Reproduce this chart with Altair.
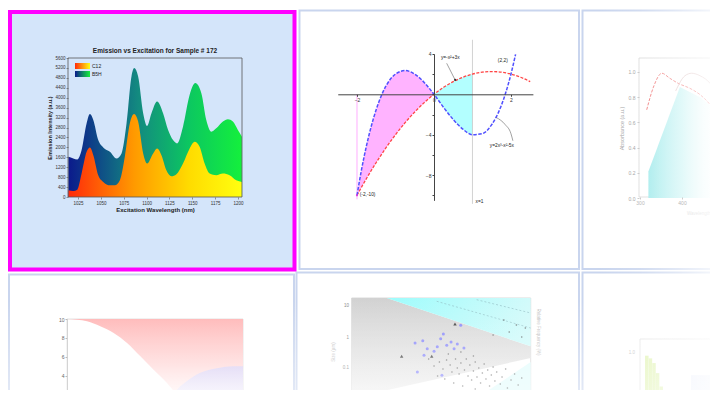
import altair as alt
import pandas as pd

F = "Liberation Sans"
W, H = 702, 382
OX, OY = 8, 8

# ---------------- data ----------------
# Panel 1: Emission vs Excitation for Sample # 172
wl_back = [1014.4, 1019.8, 1024.2, 1028.9, 1034.4, 1038.0, 1041.7, 1047.1, 1052.6, 1059.9,
           1067.1, 1072.6, 1078.1, 1083.5, 1086.4, 1090.8, 1096.3, 1100.6, 1105.4, 1111.5,
           1118.1, 1123.6, 1129.0, 1133.4, 1139.9, 1147.2, 1153.4, 1160.0, 1165.4, 1170.9,
           1176.3, 1183.6, 1189.1, 1194.5, 1200.0, 1204.4]
int_back = [1619, 1552, 1511, 1889, 2969, 3347, 3104, 2294, 1997, 1822,
            1552, 1754, 2969, 4858, 5196, 4858, 3374, 2861, 3374, 3846,
            3374, 2699, 2294, 2159, 2834, 4116, 4588, 4183, 3104, 2632,
            2766, 3037, 3131, 3037, 2699, 2429]
wl_front = [1014.4, 1019.8, 1024.2, 1028.9, 1034.4, 1038.0, 1041.7, 1047.1, 1052.6, 1059.9,
            1065.3, 1070.8, 1076.2, 1081.7, 1086.4, 1090.8, 1096.3, 1100.6, 1107.2, 1111.5,
            1116.3, 1121.7, 1127.2, 1132.7, 1139.9, 1147.2, 1152.7, 1158.1, 1163.6, 1169.1,
            1176.3, 1183.6, 1190.9, 1198.2, 1204.4]
int_front = [270, 243, 297, 945, 1822, 1997, 1687, 877, 607, 472,
             472, 675, 1619, 2969, 3347, 3037, 1754, 1349, 1754, 1956,
             1687, 1080, 837, 918, 1349, 1956, 2227, 2024, 1349, 945,
             877, 945, 877, 675, 607]
wl_ticks = [1025, 1050, 1075, 1100, 1125, 1150, 1175, 1200]
int_ticks = [0, 400, 800, 1200, 1600, 2000, 2400, 2800, 3200, 3600, 4000, 4400, 4800, 5200, 5600]
legend_names = ["C12", "B5H"]
title1 = "Emission vs Excitation for Sample # 172"

# Panel 2: area between two curves
p2_x = [-2.0, -1.875, -1.75, -1.5, -1.25, -1.0, -0.75, -0.5, -0.25, 0.0,
        0.25, 0.5, 0.75, 1.0, 1.25, 1.5, 1.75, 2.0]
p2_blue = [-10.0, -7.32, -5.03, -1.5, 0.8, 2.0, 2.35, 2.0, 1.15, 0.0,
           -1.3, -2.5, -3.45, -4.0, -3.9, -3.0, -1.1, 2.0]
p2_red = [-10.0, -9.14, -8.31, -6.75, -5.31, -4.0, -2.81, -1.75, -0.81, 0.0,
          0.69, 1.25, 1.69, 2.0, 2.19, 2.25, 2.19, 2.0]
p2_blue_x_tail = [2.12]
p2_blue_y_tail = [3.96]
p2_red_x_tail = [2.25, 2.5]
p2_red_y_tail = [1.69, 1.25]

# Panel 3: absorbance (faded)
p3_fill_x = [320, 395, 443, 480]
p3_fill_y = [0.21, 0.88, 0.80, 0.70]
p3_red_x = [316, 332, 352, 371, 391, 419, 443, 467, 490]
p3_red_y = [0.70, 0.88, 0.99, 0.95, 0.91, 0.87, 0.82, 0.74, 0.62]
p3_grey_x = [385, 407, 423, 443, 467, 483]
p3_grey_y = [0.85, 0.97, 0.99, 0.97, 0.91, 0.83]
p3_yticks = [0.0, 0.2, 0.4, 0.6, 0.8, 1.0]
p3_xticks = [300, 400]

# Panel 4: filled regions
p4_pink_x = [0, 0.114, 0.189, 0.265, 0.341, 0.417, 0.492, 0.568, 0.625, 0.68, 0.72, 1.0]
p4_pink_y = [10, 9.76, 9.23, 8.52, 7.46, 6.05, 4.63, 3.22, 1.98, 0.9, 0.0, 0.0]
p4_lav_x = [0.56, 0.587, 0.63, 0.68, 0.757, 0.852, 0.947, 1.0]
p4_lav_y = [0, 1.6, 2.6, 3.4, 4.3, 4.8, 5.0, 5.0]
p4_yticks = [4, 6, 8, 10]

# Panel 5: scatter on shaded regions
p5_blue_x = [3.54, 3.97, 4.22, 4.60, 4.97, 5.12, 5.31, 5.55, 5.72, 5.90, 6.27, 4.04, 3.67, 5.04, 6.09, 4.78]
p5_blue_y = [5.5, 5.73, 4.93, 4.67, 5.93, 6.4, 5.27, 5.6, 4.93, 5.4, 5.0, 4.27, 2.6, 2.27, 7.27, 5.13]
p5_tri_x = [5.77, 2.79, 4.47]
p5_tri_y = [7.4, 4.17, 4.17]
p5_dot_x = [4.3, 4.6, 4.9, 5.1, 5.3, 5.5, 5.6, 5.8, 5.9, 6.0, 6.1, 6.3, 6.4, 6.5, 6.6, 6.7, 6.8, 6.9,
            7.0, 7.1, 7.2, 7.3, 7.4, 7.5, 7.6, 7.7, 7.8, 7.9, 8.0, 8.1, 8.3, 8.4, 8.6, 8.7, 8.9, 9.1,
            9.3, 9.5, 5.2, 5.7, 6.2, 4.8, 6.9, 7.6, 8.2, 5.4, 6.1, 6.8, 8.8, 9.2, 9.5, 8.5, 9.7, 7.9]
p5_dot_y = [3.9, 3.2, 3.6, 2.9, 3.8, 3.3, 2.6, 3.9, 3.0, 2.4, 3.5, 2.8, 3.9, 2.2, 3.3, 1.8, 2.7, 3.6,
            2.1, 3.0, 1.5, 2.5, 3.4, 1.9, 2.8, 1.2, 2.3, 3.1, 1.7, 2.6, 1.4, 2.1, 2.9, 1.0, 1.8, 2.4,
            1.3, 2.0, 1.9, 1.5, 1.2, 2.2, 0.9, 0.7, 0.5, 4.4, 4.6, 4.2, 6.6, 7.3, 6.1, 7.8, 7.0, 6.3]

# Panel 6: faded histogram
p6_bar_x = [0.2, 0.6, 1.0, 1.4, 1.8]
p6_bar_h = [0.96, 0.92, 0.85, 0.70, 0.50]


# ---------------- helpers ----------------
def cx(p):
    return p - OX


def cy(p):
    return p - OY


def lin(domain, rng):
    return alt.Scale(domain=domain, range=rng, zero=False, nice=False)


PX = lin([OX, OX + W], [0, W])
PY = lin([OY, OY + H], [0, H])


def hgrad(stops):
    return alt.Gradient(gradient="linear", x1=0, x2=1, y1=0, y2=0,
                        stops=[alt.GradientStop(offset=o, color=c) for o, c in stops])


def vgrad(stops):
    return alt.Gradient(gradient="linear", x1=0, x2=0, y1=0, y2=1,
                        stops=[alt.GradientStop(offset=o, color=c) for o, c in stops])


def page_rects(rows, **mk):
    df = pd.DataFrame(rows, columns=["x0", "y0", "x1", "y1"])
    return alt.Chart(df).mark_rect(**mk).encode(
        x=alt.X("x0:Q", scale=PX, axis=None), x2="x1:Q",
        y=alt.Y("y0:Q", scale=PY, axis=None), y2="y1:Q")


def page_text(rows, **mk):
    df = pd.DataFrame(rows, columns=["x", "y", "t"])
    mk.setdefault("font", F)
    return alt.Chart(df).mark_text(**mk).encode(
        x=alt.X("x:Q", scale=PX, axis=None),
        y=alt.Y("y:Q", scale=PY, axis=None),
        text="t:N")


def axis(**kw):
    base = dict(labelFont=F, titleFont=F, grid=False, zindex=1, labelOverlap=False,
                labelFlush=False)
    base.update(kw)
    return alt.Axis(**base)


layers = []

# ---------------- gallery cells ----------------
cells = [(299.5, 10.5, 579, 269), (582.5, 10.5, 780, 269),
         (9, 274.5, 294, 460), (296.5, 272.5, 579, 460), (582.5, 272.5, 780, 460)]
layers.append(page_rects(cells, fillOpacity=0, stroke="#C9D5EE", strokeWidth=2))
layers.append(page_rects([(10, 12, 294.5, 269.5)], fill="#D4E5FA"))

# ---------------- panel 1 ----------------
sx1 = lin([1014, 1204.5], [cx(68), cx(242)])
sy1 = lin([0, 5600], [cy(197), cy(58)])
ax1x = axis(orient="bottom", offset=cy(197) - H, values=wl_ticks, format="d", labelFontSize=4.5,
            labelColor="#333", tickSize=2, tickColor="#555", tickWidth=0.6, domain=False,
            labelPadding=1, title="Excitation Wavelength (nm)", titleFontSize=6,
            titleFontWeight="bold", titleColor="#222", titlePadding=2)
ax1y = axis(orient="left", offset=-cx(68), values=int_ticks, format="d", labelFontSize=4.5,
            labelColor="#333", tickSize=2, tickColor="#555", tickWidth=0.6, domain=False,
            labelPadding=1, title="Emission Intensity (a.u.)", titleFontSize=5.5,
            titleFontWeight="bold", titleColor="#222", titlePadding=2)
df_back = pd.DataFrame({"w": wl_back, "v": int_back})
df_front = pd.DataFrame({"w": wl_front, "v": int_front})
grad_back = hgrad([(0, "#0b1a8c"), (0.4, "#138a80"), (0.7, "#0cc860"), (1, "#14f03c")])
grad_front = hgrad([(0, "#ff2a0a"), (0.38, "#ff9a00"), (0.7, "#ffdc00"), (1, "#ffff10")])
layers.append(alt.Chart(df_back).mark_area(interpolate="monotone", fill=grad_back).encode(
    x=alt.X("w:Q", scale=sx1, axis=ax1x), y=alt.Y("v:Q", scale=sy1, axis=ax1y)))
layers.append(alt.Chart(df_front).mark_area(interpolate="monotone", fill=grad_front).encode(
    x=alt.X("w:Q", scale=sx1, axis=None), y=alt.Y("v:Q", scale=sy1, axis=None)))
layers.append(page_rects([(68, 58, 242, 197)], fillOpacity=0, stroke="#555", strokeWidth=0.8))
layers.append(page_rects([(75, 63, 90, 69)], fill=hgrad([(0, "#ff2a0a"), (1, "#ffff10")])))
layers.append(page_rects([(75, 71, 90, 77)], fill=hgrad([(0, "#0b1a8c"), (1, "#14f03c")])))
layers.append(page_text([(92, 66, legend_names[0]), (92, 74, legend_names[1])],
                        align="left", baseline="middle", fontSize=5, color="#222"))
layers.append(page_text([(155, 51, title1)], align="center", baseline="middle",
                        fontSize=6.5, fontWeight="bold", color="#222"))

# ---------------- panel 2 ----------------
sx2 = lin([-2.5, 2.57], [cx(337.75), cx(532.9)])
sy2 = lin([-10.5, 4], [cy(200.35), cy(53.9)])
ax2x = axis(orient="bottom", offset=cy(94.3) - H, values=[-2, 0, 2], labelFontSize=5,
            labelColor="#333", tickSize=2, tickColor="#444", domainColor="#444",
            domainWidth=1, labelPadding=1, title=None)
ax2y = axis(orient="left", offset=-cx(434), values=[4, 2, 0, -2, -4, -6, -8, -10],
            labelExpr="datum.value==4||datum.value==-4||datum.value==-8 ? datum.label : ''",
            labelFontSize=5, labelColor="#333", tickSize=2, tickColor="#444",
            domainColor="#444", domainWidth=1, labelPadding=1, title=None)
df_mag = pd.DataFrame([(x, b, r) for x, b, r in zip(p2_x, p2_blue, p2_red) if x <= 0],
                      columns=["x", "top", "bot"])
df_cyan = pd.DataFrame([(x, r, b) for x, b, r in zip(p2_x, p2_blue, p2_red) if 0 <= x <= 1],
                       columns=["x", "top", "bot"])
layers.append(alt.Chart(df_mag).mark_area(interpolate="monotone", color="#FFB3FF").encode(
    x=alt.X("x:Q", scale=sx2, axis=ax2x), y=alt.Y("top:Q", scale=sy2, axis=ax2y), y2="bot:Q"))
layers.append(alt.Chart(df_cyan).mark_area(interpolate="monotone", color="#B3FFFF").encode(
    x=alt.X("x:Q", scale=sx2, axis=None), y=alt.Y("top:Q", scale=sy2, axis=None), y2="bot:Q"))
df_rules = pd.DataFrame({"x": [1, -2], "y": [-10.85, 0], "y2": [5.4, -10.4],
                         "c": ["#C8C8C8", "#FF99FF"]})
layers.append(alt.Chart(df_rules).mark_rule(strokeWidth=0.8).encode(
    x=alt.X("x:Q", scale=sx2, axis=None), y=alt.Y("y:Q", scale=sy2, axis=None), y2="y2:Q",
    color=alt.Color("c:N", scale=None)))
df_red = pd.DataFrame({"x": p2_x + p2_red_x_tail, "y": p2_red + p2_red_y_tail})
df_blue = pd.DataFrame({"x": p2_x + p2_blue_x_tail, "y": p2_blue + p2_blue_y_tail})
layers.append(alt.Chart(df_red).mark_line(interpolate="monotone", color="#FF4545",
                                          strokeDash=[3, 1.5], strokeWidth=1.3).encode(
    x=alt.X("x:Q", scale=sx2, axis=None), y=alt.Y("y:Q", scale=sy2, axis=None)))
layers.append(alt.Chart(df_blue).mark_line(interpolate="monotone", color="#5050FF",
                                           strokeDash=[3.5, 1.5], strokeWidth=1.5).encode(
    x=alt.X("x:Q", scale=sx2, axis=None), y=alt.Y("y:Q", scale=sy2, axis=None)))
df_lead = pd.DataFrame({"g": ["a", "a", "b", "b", "b", "b"],
                        "x": [0.33, 0.55, 1.62, 1.85, 2.0, 2.05],
                        "y": [3.07, 1.42, -2.3, -3.0, -3.9, -4.6], "o": [0, 1, 0, 1, 2, 3]})
layers.append(alt.Chart(df_lead).mark_line(color="#444", strokeWidth=0.5,
                                           interpolate="monotone").encode(
    x=alt.X("x:Q", scale=sx2, axis=None), y=alt.Y("y:Q", scale=sy2, axis=None),
    detail="g:N", order="o:Q"))
df_mk = pd.DataFrame({"x": [-2, 0.55], "y": [-10, 1.42], "c": ["#E040E0", "#333333"]})
layers.append(alt.Chart(df_mk).mark_circle(size=5, opacity=1).encode(
    x=alt.X("x:Q", scale=sx2, axis=None), y=alt.Y("y:Q", scale=sy2, axis=None),
    color=alt.Color("c:N", scale=None)))
df_lab2 = pd.DataFrame({"x": [0.18, 1.45, 1.66, -1.93, 1.08],
                        "y": [3.55, -5.15, 3.25, -10.0, -10.7],
                        "t": ["y=-x²+3x", "y=2x³-x²-5x", "(2,2)", "(-2,-10)", "x=1"]})
layers.append(alt.Chart(df_lab2).mark_text(align="left", baseline="middle", fontSize=4.8,
                                           font=F, color="#222").encode(
    x=alt.X("x:Q", scale=sx2, axis=None), y=alt.Y("y:Q", scale=sy2, axis=None), text="t:N"))

# ---------------- panel 3 ----------------
sx3 = lin([300, 400], [cx(640), cx(682)])
sy3 = lin([0, 1.111], [cy(198), cy(58)])
ax3x = axis(orient="bottom", offset=cy(197) - H, values=p3_xticks, labelFontSize=5,
            labelColor="#B8B8B8", tickSize=2, tickColor="#CCC", domain=False,
            labelPadding=1, title=None)
ax3y = axis(orient="left", offset=-cx(639), values=p3_yticks, format=".1f", labelFontSize=5,
            labelColor="#A8A8A8", tickSize=2, tickColor="#CCC", domain=False, labelPadding=2,
            title="Absorbance (a.u.)", titleFontSize=5.5, titleColor="#A8A8A8",
            titleFontWeight="normal", titlePadding=4)
layers.append(page_rects([(639, 58, 820, 197)], fillOpacity=0, stroke="#D2D2D2", strokeWidth=0.8))
df3f = pd.DataFrame({"x": p3_fill_x, "y": p3_fill_y})
layers.append(alt.Chart(df3f).mark_area(
    fill=hgrad([(0, "#9CE9EA"), (0.5, "#C4F3F3"), (1, "#FFFFFF")])).encode(
    x=alt.X("x:Q", scale=sx3, axis=ax3x), y=alt.Y("y:Q", scale=sy3, axis=ax3y)))
df3r = pd.DataFrame({"x": p3_red_x, "y": p3_red_y})
layers.append(alt.Chart(df3r).mark_line(interpolate="monotone", color="#F07070",
                                        strokeDash=[3, 1.5], strokeWidth=1).encode(
    x=alt.X("x:Q", scale=sx3, axis=None), y=alt.Y("y:Q", scale=sy3, axis=None)))
df3g = pd.DataFrame({"x": p3_grey_x, "y": p3_grey_y})
layers.append(alt.Chart(df3g).mark_line(interpolate="monotone", color="#D8B8B8",
                                        strokeWidth=0.8).encode(
    x=alt.X("x:Q", scale=sx3, axis=None), y=alt.Y("y:Q", scale=sy3, axis=None)))
layers.append(page_text([(687, 214, "Wavelength")], align="left", baseline="middle",
                        fontSize=4.5, color="#C8C8C8"))

# ---------------- panel 4 ----------------
sx4 = lin([0, 1], [cx(67), cx(243)])
sy4 = lin([0, 10], [cy(413.5), cy(319)])
ax4y = axis(orient="left", offset=-cx(67), values=p4_yticks, labelFontSize=5,
            labelColor="#666", tickSize=2, tickColor="#BBB", domainColor="#CCC",
            domainWidth=0.8, labelPadding=1, title=None)
layers.append(page_rects([(67, 319, 243, 460)], fillOpacity=0, stroke="#D8D8D8", strokeWidth=0.8))
df4p = pd.DataFrame({"x": p4_pink_x, "y": p4_pink_y, "top": [10] * len(p4_pink_x)})
layers.append(alt.Chart(df4p).mark_area(
    interpolate="monotone",
    fill=vgrad([(0, "#FFB5B5"), (0.45, "#FFD3D3"), (0.78, "#FFF2F2"), (1, "#FFFFFF")])).encode(
    x=alt.X("x:Q", scale=sx4, axis=None), y=alt.Y("y:Q", scale=sy4, axis=ax4y), y2="top:Q"))
df4l = pd.DataFrame({"x": p4_lav_x, "y": p4_lav_y})
layers.append(alt.Chart(df4l).mark_area(
    interpolate="monotone",
    fill=vgrad([(0, "#D9CEF2"), (0.55, "#EFEBFA"), (1, "#FFFFFF")])).encode(
    x=alt.X("x:Q", scale=sx4, axis=None), y=alt.Y("y:Q", scale=sy4, axis=None)))

# ---------------- panel 5 ----------------
sx5 = lin([0, 10], [cx(351.7), cx(530.7)])
sy5 = lin([0, 10], [cy(398), cy(298)])
layers.append(page_rects([(351.7, 298, 530.7, 460)], fillOpacity=0, stroke="#D0D0D0",
                         strokeWidth=0.8))
df5g = pd.DataFrame({"x": [0, 1.96, 10], "y": [10, 10, 5.17], "y2": [0, 0.78, 4.0]})
layers.append(alt.Chart(df5g).mark_area(
    fill=vgrad([(0, "#D2D2D2"), (0.6, "#E2E2E2"), (1, "#F2F2F2")])).encode(
    x=alt.X("x:Q", scale=sx5, axis=None), y=alt.Y("y:Q", scale=sy5, axis=None), y2="y2:Q"))
df5c = pd.DataFrame({"x": [1.96, 10], "y": [10, 5.17], "y2": [10, 10]})
layers.append(alt.Chart(df5c).mark_area(
    fill=hgrad([(0, "#9EFCFC"), (1, "#D2FAFA")])).encode(
    x=alt.X("x:Q", scale=sx5, axis=None), y=alt.Y("y:Q", scale=sy5, axis=None), y2="y2:Q"))
df5c2 = pd.DataFrame({"x": [7, 10], "y": [0, 3.6]})
layers.append(alt.Chart(df5c2).mark_area(fill="#E2FCFC").encode(
    x=alt.X("x:Q", scale=sx5, axis=None), y=alt.Y("y:Q", scale=sy5, axis=None)))
df5d = pd.DataFrame({"g": ["a", "a", "b", "b"], "x": [4.75, 10, 6.98, 10],
                     "y": [9.67, 7.0, 9.83, 8.5]})
layers.append(alt.Chart(df5d).mark_line(color="#8FB8C0", strokeDash=[2, 2],
                                        strokeWidth=0.6).encode(
    x=alt.X("x:Q", scale=sx5, axis=None), y=alt.Y("y:Q", scale=sy5, axis=None), detail="g:N"))
df5dots = pd.DataFrame({"x": p5_dot_x, "y": p5_dot_y})
layers.append(alt.Chart(df5dots).mark_circle(size=2.5, color="#555", opacity=0.8).encode(
    x=alt.X("x:Q", scale=sx5, axis=None), y=alt.Y("y:Q", scale=sy5, axis=None)))
df5b = pd.DataFrame({"x": p5_blue_x, "y": p5_blue_y})
layers.append(alt.Chart(df5b).mark_circle(size=9, color="#7C7CFF", opacity=0.85).encode(
    x=alt.X("x:Q", scale=sx5, axis=None), y=alt.Y("y:Q", scale=sy5, axis=None)))
df5t = pd.DataFrame({"x": p5_tri_x, "y": p5_tri_y})
layers.append(alt.Chart(df5t).mark_point(shape="triangle-up", filled=True, size=12,
                                         color="#333", opacity=0.9).encode(
    x=alt.X("x:Q", scale=sx5, axis=None), y=alt.Y("y:Q", scale=sy5, axis=None)))
layers.append(page_text([(349, 306, "10"), (349, 338, "1"), (349, 368, "0.1")],
                        align="right", baseline="middle", fontSize=4.5, color="#888"))
layers.append(page_text([(537.5, 332, "Relative Frequency (%)")], align="center",
                        baseline="middle", angle=90, fontSize=4.5, color="#BBBBBB"))
layers.append(page_text([(334, 352, "Size (μm)")], align="center", baseline="middle",
                        angle=270, fontSize=4.5, color="#C0C0C0"))

# ---------------- panel 6 ----------------
sx6 = lin([0, 10], [cx(640), cx(740)])
sy6 = lin([0, 1.2], [cy(420), cy(339.6)])
layers.append(page_rects([(640, 339, 800, 460)], fillOpacity=0, stroke="#DCDCDC", strokeWidth=0.8))
df6 = pd.DataFrame({"x": p6_bar_x, "h": p6_bar_h})
layers.append(alt.Chart(df6).mark_bar(size=3.5, color="#DDF2A8").encode(
    x=alt.X("x:Q", scale=sx6, axis=None), y=alt.Y("h:Q", scale=sy6, axis=None)))
df6b = pd.DataFrame({"x": [5.1], "x2": [8.0], "y": [0.39], "y2": [0.67]})
layers.append(alt.Chart(df6b).mark_rect(color="#E4EAFA").encode(
    x=alt.X("x:Q", scale=sx6, axis=None), x2="x2:Q",
    y=alt.Y("y:Q", scale=sy6, axis=None), y2="y2:Q"))
layers.append(page_text([(635, 353, "1.0")], align="right", baseline="middle",
                        fontSize=4.5, color="#BBBBBB"))

# ---------------- fades ----------------
layers.append(page_rects([(598, 8, 718, 398)], fill=hgrad(
    [(0, "rgba(255,255,255,0)"), (0.35, "rgba(255,255,255,0.15)"),
     (0.7, "rgba(255,255,255,0.5)"), (1, "rgba(255,255,255,0.85)")])))
layers.append(page_rects([(0, 300, 718, 398)], fill=vgrad(
    [(0, "rgba(255,255,255,0)"), (1, "rgba(255,255,255,0.5)")])))

# ---------------- selection border ----------------
layers.append(page_rects([(10, 12, 294.5, 269.5)], fillOpacity=0, stroke="#FF00FF",
                         strokeWidth=4))

chart = alt.layer(*layers).resolve_scale(x="independent", y="independent").properties(
    width=W, height=H, padding=0, background="white",
    autosize=alt.AutoSizeParams(type="none"),
).configure_view(stroke=None)

chart.save("out.html", embed_options={"renderer": "svg", "actions": False})
